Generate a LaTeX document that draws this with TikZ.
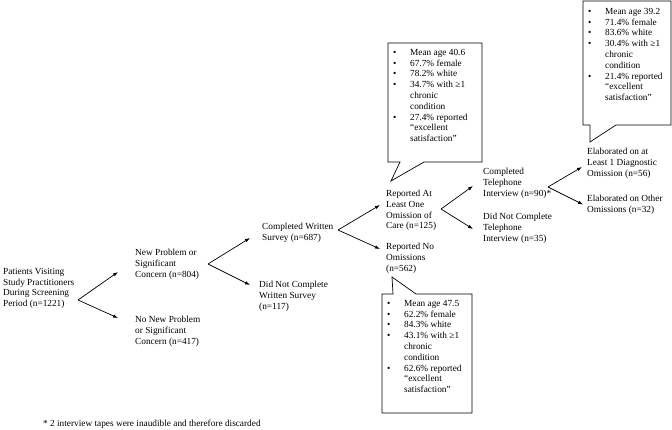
\documentclass[tikz,border=0pt]{standalone}
\usepackage{graphicx}
\usepackage{fontspec}
\setmainfont{Liberation Serif}
\usetikzlibrary{arrows.meta,positioning}

\newcommand{\fs}{\fontsize{9.3}{10.8}\selectfont}
\newcommand{\bul}{\makebox[17pt][l]{\textbullet}}
\newcommand{\ind}{\hspace*{17pt}}

\begin{document}
\begin{tikzpicture}[x=1pt,y=-1pt,
  lbl/.style={inner sep=0pt, align=left, anchor=west, font=\fs},
  info/.style={inner sep=0pt, align=left, anchor=north west, font=\fs},
  arr/.style={line width=0.7pt, -{Latex[length=5pt,width=3.5pt]}},
  callout/.style={line width=0.7pt}]
\useasboundingbox (0,0) rectangle (672,430);

% Tree labels
\node[lbl] (root) at (3,288.5) {Patients Visiting\\Study Practitioners\\During Screening\\Period (n=1221)};
\node[lbl] (np) at (135,264) {New Problem or\\Significant\\Concern (n=804)};
\node[lbl] (nnp) at (135,331) {No New Problem\\or Significant\\Concern (n=417)};
\node[lbl] (cws) at (262,232.5) {Completed Written\\Survey (n=687)};
\node[lbl] (dnc) at (259,296) {Did Not Complete\\Written Survey\\(n=117)};
\node[lbl] (ra) at (386,210.5) {Reported At\\Least One\\Omission of\\Care (n=125)};
\node[lbl] (rno) at (386,258) {Reported No\\Omissions\\(n=562)};
\node[lbl] (cti) at (483,183) {Completed\\Telephone\\Interview (n=90)*};
\node[lbl] (dnt) at (483,228) {Did Not Complete\\Telephone\\Interview (n=35)};
\node[lbl] (elab) at (587,163.5) {Elaborated on at\\Least 1 Diagnostic\\Omission (n=56)};
\node[lbl] (eoth) at (587,204.5) {Elaborated on Other\\Omissions (n=32)};

% Chevrons
\coordinate (v1) at (78,300);
\coordinate (v2) at (208,264);
\coordinate (v3) at (338,230);
\coordinate (v4) at (441,209);
\coordinate (v5) at (548,187);
\draw[arr] (v1) -- ([xshift=-17pt,yshift=-8pt]np.west);
\draw[arr] (v1) -- ([xshift=-17pt,yshift=13pt]nnp.west);
\draw[arr] (v2) -- ([xshift=-12pt,yshift=-5.5pt]cws.west);
\draw[arr] (v2) -- ([xshift=-9pt,yshift=11pt]dnc.west);
\draw[arr] (v3) -- ([xshift=-6pt,yshift=5.5pt]ra.west);
\draw[arr] (v3) -- ([xshift=-6pt,yshift=9pt]rno.west);
\draw[arr] (v4) -- ([xshift=-10pt,yshift=-3pt]cti.west);
\draw[arr] (v4) -- ([xshift=-10pt,yshift=-1pt]dnt.west);
\draw[arr] (v5) -- ([xshift=-5pt,yshift=-3.5pt]elab.west);
\draw[arr] (v5) -- ([xshift=-4pt]eoth.west);

% Callout boxes
\coordinate (t1) at (391,181);
\coordinate (t2) at (392,277);
\coordinate (t3) at (590,142);
\draw[callout] (388,43) -- (482,43) -- (482,162) -- (424,162) -- (t1) -- (400,162) -- (388,162) -- cycle;
\draw[callout] (382,294) -- (393,294) -- (t2) -- (416,294) -- (472,294) -- (472,413) -- (382,413) -- cycle;
\draw[callout] (583,1) -- (671,1) -- (671,125) -- (616,125) -- (t3) -- (590,125) -- (583,125) -- cycle;

\node[info] (s1) at (393,49) {\bul Mean age 40.6\\\bul 67.7\% female\\\bul 78.2\% white\\\bul 34.7\% with ≥1\\\ind chronic\\\ind condition\\\bul 27.4\% reported\\\ind ``excellent\\\ind satisfaction''};
\node[info] (s2) at (387,300) {\bul Mean age 47.5\\\bul 62.2\% female\\\bul 84.3\% white\\\bul 43.1\% with ≥1\\\ind chronic\\\ind condition\\\bul 62.6\% reported\\\ind ``excellent\\\ind satisfaction''};
\node[info] (s3) at (588,8) {\bul Mean age 39.2\\\bul 71.4\% female\\\bul 83.6\% white\\\bul 30.4\% with ≥1\\\ind chronic\\\ind condition\\\bul 21.4\% reported\\\ind ``excellent\\\ind satisfaction''};

% Footnote
\node[lbl] (note) at (43,424) {* 2 interview tapes were inaudible and therefore discarded};
\end{tikzpicture}
\end{document}
